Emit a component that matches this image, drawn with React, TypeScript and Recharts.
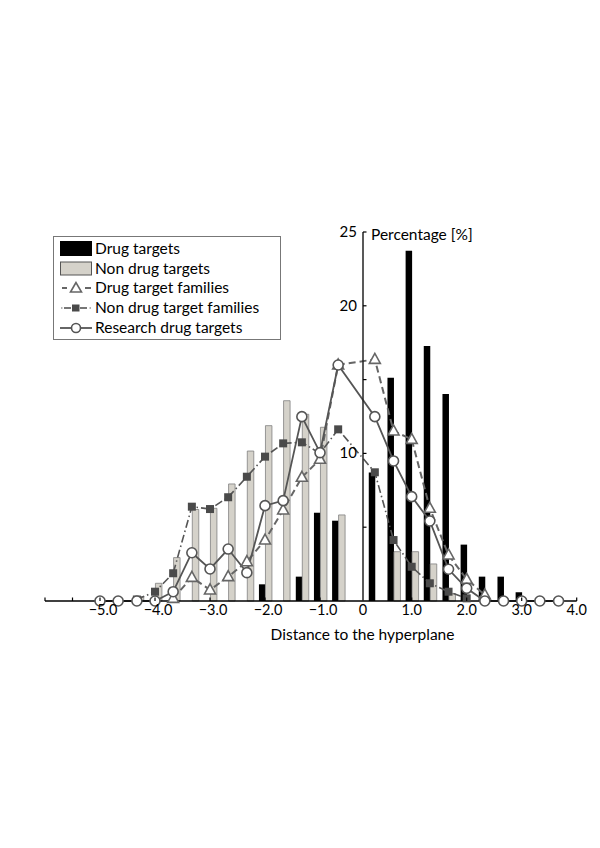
import React from 'react';
import { ComposedChart, Bar, Line, XAxis, YAxis, Legend } from 'recharts';

// bin centres on the distance axis
const bins = [
  -5.0, -4.67, -4.33, -4.0, -3.67, -3.33, -3.0, -2.67, -2.33, -2.0, -1.67, -1.33, -1.0, -0.67,
  0.33, 0.67, 1.0, 1.33, 1.67, 2.0, 2.33, 2.67, 3.0, 3.33, 3.67,
];

// percentages per bin
const drugTargets = [
  0, 0, 0, 0, 0, 0, 0, 0, 0, 1.13, 0, 1.65, 5.98, 5.44,
  8.7, 15.13, 23.73, 17.28, 14.02, 3.82, 1.65, 1.65, 0.59, 0, 0,
];
const nonDrugTargets = [
  0, 0, 0.3, 1.2, 2.94, 6.2, 6.28, 7.93, 10.16, 11.88, 13.57, 12.65, 11.77, 5.83,
  0, 3.34, 3.34, 2.51, 0.5, 0, 0, 0, 0, 0, 0,
];
const drugTargetFamilies = [
  null, null, null, null, 0.18, 1.6, 0.75, 1.65, 2.66, 4.13, 6.17, 8.38, 9.6, 16.0,
  16.37, 11.52, 10.95, 6.28, 3.12, 1.47, 0.41, null, null, null, null,
];
const nonDrugTargetFamilies = [
  null, null, 0.1, 0.63, 1.88, 6.39, 6.23, 7.03, 8.42, 9.78, 10.68, 10.75, 10.0, 11.63,
  8.72, 4.13, 2.32, 1.2, 0.63, 0.18, null, null, null, null, null,
];
const researchDrugTargets = [
  0, 0, 0, 0, 0.63, 3.27, 2.17, 3.52, 1.92, 6.46, 6.8, 12.49, 10.05, 15.99,
  12.49, 9.49, 7.07, 5.42, 2.15, 0.86, 0, 0, 0, 0, 0,
];

const xTickValues = [-6, -5.5, -5, -4, -3, -2, -1, 0, 1, 2, 3, 4];
const xTickLabels = ['', '', '\u22125.0', '\u22124.0', '\u22123.0', '\u22122.0', '\u22121.0', '0', '1.0', '2.0', '3.0', '4.0'];
const yTicks = [0, 5, 10, 15, 20, 25];
const yTickLabels = ['', '', '10', '', '20', '25'];

const legendItems = [
  { key: 'drug', label: 'Drug targets' },
  { key: 'nonDrug', label: 'Non drug targets' },
  { key: 'drugFam', label: 'Drug target families' },
  { key: 'nonDrugFam', label: 'Non drug target families' },
  { key: 'research', label: 'Research drug targets' },
];

const FONT = 'Lato, "Open Sans", sans-serif';
const LINE = '#555';
const GRAY = '#d5d2ca';

// the published figure squeezes the bins around zero into two slots,
// so the distance axis is piecewise: one slot per third of a unit
const toSlot = (v: number) => {
  if (v <= -0.67) return (v + 5) * 3;
  if (v >= 0.33) return (v + 5) * 3 - 1;
  return 13 + (v + 0.67) * 2;
};

const data = bins.map((b, i) => ({
  slot: toSlot(b),
  drug: drugTargets[i],
  nonDrug: nonDrugTargets[i],
  drugFam: drugTargetFamilies[i],
  nonDrugFam: nonDrugTargetFamilies[i],
  research: researchDrugTargets[i],
}));

const xTickSlots = xTickValues.map(toSlot);

const XTick = (props: any) => {
  const { x, y, payload } = props;
  const idx = xTickSlots.findIndex((s) => Math.abs(s - payload.value) < 1e-6);
  const label = idx >= 0 ? xTickLabels[idx] : '';
  const dx = label.startsWith('\u2212') ? 3 : 0;
  return (
    <g>
      {label !== '0' && <line x1={x} x2={x} y1={y} y2={y - 3.5} stroke="#000" strokeWidth={1.2} />}
      <text x={x + dx} y={y + 14} textAnchor="middle" fontSize={14.5} fontFamily={FONT} fill="#000">
        {label}
      </text>
    </g>
  );
};

const YTick = (props: any) => {
  const { x, y, payload } = props;
  const idx = yTicks.indexOf(payload.value);
  const label = idx >= 0 ? yTickLabels[idx] : '';
  return (
    <g>
      {payload.value > 0 && <line x1={x} x2={x + 3.5} y1={y} y2={y} stroke="#000" strokeWidth={1.2} />}
      <text x={x - 6} y={y + 5} textAnchor="end" fontSize={15} fontFamily={FONT} fill="#000">
        {label}
      </text>
    </g>
  );
};

const Triangle = (props: any) => {
  const { cx, cy, index } = props;
  if (cx == null || cy == null || props.value == null) return <g key={`t-${index}`} />;
  return (
    <polygon
      key={`t-${index}`}
      points={`${cx},${cy - 6} ${cx - 5.5},${cy + 4} ${cx + 5.5},${cy + 4}`}
      fill="#fff"
      stroke="#666"
      strokeWidth={1.6}
    />
  );
};

const Square = (props: any) => {
  const { cx, cy, index } = props;
  if (cx == null || cy == null || props.value == null) return <g key={`s-${index}`} />;
  return <rect key={`s-${index}`} x={cx - 4} y={cy - 4} width={8} height={8} fill="#4a4a4a" />;
};

const Circle = (props: any) => {
  const { cx, cy, index } = props;
  if (cx == null || cy == null || props.value == null) return <g key={`c-${index}`} />;
  return <circle key={`c-${index}`} cx={cx} cy={cy} r={5} fill="#fff" stroke={LINE} strokeWidth={1.6} />;
};

const Swatch = ({ kind }: { kind: string }) => {
  if (kind === 'drug') return <rect x={0} y={2} width={32} height={15} fill="#000" />;
  if (kind === 'nonDrug') return <rect x={0.5} y={3} width={31} height={13} fill={GRAY} stroke="#555" />;
  if (kind === 'drugFam')
    return (
      <g stroke="#666" strokeWidth={2}>
        <line x1={2} x2={7} y1={10} y2={10} />
        <line x1={25} x2={31} y1={10} y2={10} />
        <polygon points="16,4.5 10.5,14 21.5,14" fill="#fff" strokeWidth={1.6} />
      </g>
    );
  if (kind === 'nonDrugFam')
    return (
      <g stroke={LINE} strokeWidth={1.6}>
        <line x1={1} x2={2.5} y1={10} y2={10} stroke="#999" />
        <line x1={4} x2={11} y1={10} y2={10} />
        <rect x={12} y={6.5} width={7.5} height={7} fill="#4a4a4a" stroke="none" />
        <line x1={20} x2={27} y1={10} y2={10} />
        <line x1={29.5} x2={31} y1={10} y2={10} stroke="#999" />
      </g>
    );
  return (
    <g stroke={LINE} strokeWidth={1.8}>
      <line x1={0} x2={32} y1={10} y2={10} />
      <circle cx={16} cy={10} r={4.5} fill="#fff" strokeWidth={1.6} />
    </g>
  );
};

const LegendBox = () => (
  <div
    style={{
      border: '1px solid #777',
      background: '#fff',
      padding: '2px 0 0 6px',
      width: 220,
      height: 100,
      fontFamily: FONT,
      fontSize: 15.5,
      color: '#000',
      boxSizing: 'content-box',
    }}
  >
    {legendItems.map((item) => (
      <div key={item.key} style={{ display: 'flex', alignItems: 'center', height: 19.75 }}>
        <svg width={34} height={19} style={{ flex: 'none' }}>
          <Swatch kind={item.key} />
        </svg>
        <span style={{ marginLeft: 1, lineHeight: '19px' }}>{item.label}</span>
      </div>
    ))}
  </div>
);

export default function App() {
  return (
    <div style={{ position: 'absolute', left: 0, top: 0, width: 600, height: 848, background: '#fff', fontFamily: FONT }}>
      <ComposedChart
        width={600}
        height={848}
        data={data}
        margin={{ top: 232, right: 23.3, bottom: 207, left: 45 }}
        barGap={0}
      >
        <XAxis
          type="number"
          dataKey="slot"
          domain={[toSlot(-6), toSlot(4)]}
          ticks={xTickSlots}
          interval={0}
          tickLine={false}
          tickSize={0}
          tickMargin={0}
          tick={<XTick />}
          axisLine={{ stroke: '#000', strokeWidth: 1.5 }}
          height={40}
          allowDataOverflow
        />
        <YAxis hide type="number" domain={[0, 25]} />
        <Legend
          layout="horizontal"
          verticalAlign="middle"
          align="center"
          content={<LegendBox />}
          wrapperStyle={{ position: 'absolute', left: 53, top: 235.5, width: 228, height: 103 }}
        />
        <Bar dataKey="drug" fill="#000" barSize={6.5} isAnimationActive={false} />
        <Bar dataKey="nonDrug" fill={GRAY} stroke="#808080" strokeWidth={0.8} barSize={6.5} isAnimationActive={false} />
        <Line
          dataKey="nonDrugFam"
          stroke={LINE}
          strokeWidth={1.6}
          strokeDasharray="8 3 1.5 3"
          dot={(p: any) => <Square {...p} />}
          activeDot={false}
          isAnimationActive={false}
        />
        <Line
          dataKey="drugFam"
          stroke="#666"
          strokeWidth={2}
          strokeDasharray="7 4"
          dot={(p: any) => <Triangle {...p} />}
          activeDot={false}
          isAnimationActive={false}
        />
        <Line
          dataKey="research"
          stroke={LINE}
          strokeWidth={1.8}
          dot={(p: any) => <Circle {...p} />}
          activeDot={false}
          isAnimationActive={false}
        />
      </ComposedChart>

      {/* vertical percentage axis sits at distance 0, inside the plot */}
      <div style={{ position: 'absolute', left: 362.7 - 40, top: 0 }}>
        <ComposedChart width={120} height={848} data={data} margin={{ top: 232, right: 40, bottom: 247, left: 0 }}>
          <XAxis hide type="number" dataKey="slot" domain={[toSlot(-6), toSlot(4)]} />
          <YAxis
            type="number"
            domain={[0, 25]}
            ticks={yTicks}
            interval={0}
            width={40}
            tickSize={0}
            tickMargin={0}
            tickLine={false}
            tick={<YTick />}
            axisLine={{ stroke: '#222', strokeWidth: 1.5 }}
          />
          <Line dataKey="research" stroke="none" dot={false} activeDot={false} isAnimationActive={false} />
        </ComposedChart>
      </div>

      <div style={{ position: 'absolute', left: 371, top: 226, fontSize: 15.5, lineHeight: '16px', fontFamily: FONT, color: '#000' }}>
        Percentage [%]
      </div>
      <div style={{ position: 'absolute', left: 270, top: 626, width: 185, textAlign: 'center', fontSize: 15.5, lineHeight: '16px', fontFamily: FONT, color: '#000', whiteSpace: 'nowrap' }}>
        Distance to the hyperplane
      </div>
    </div>
  );
}
